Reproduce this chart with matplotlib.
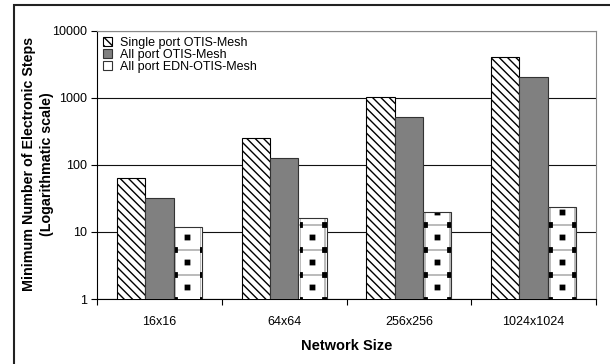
import matplotlib
matplotlib.use('Agg')
import matplotlib.pyplot as plt
import matplotlib.hatch as mhatch
import numpy as np
from matplotlib.path import Path
from matplotlib.patches import Rectangle

plt.rcParams['font.family'] = ['Liberation Sans', 'DejaVu Sans']
plt.rcParams['hatch.linewidth'] = 1.0

sizes = ['16x16', '64x64', '256x256', '1024x1024']
single_port = [64, 256, 1024, 4096]
all_port = [32, 128, 512, 2048]
edn_port = [12, 16, 20, 24]
names = ['Single port OTIS-Mesh', 'All port OTIS-Mesh', 'All port EDN-OTIS-Mesh']


# Excel-like fill patterns: 'o' -> sparse square grid, '*' -> square dots at grid corners and centres
class GridLines(mhatch.HatchPatternBase):
    def __init__(self, hatch, density):
        self.num_lines = 4 * hatch.count('o')
        self.num_vertices = self.num_lines * 4

    def set_vertices_and_codes(self, vertices, codes):
        n = self.num_lines
        steps = np.linspace(0.0, 1.0, n, False)
        vertices[0:2*n:2, 0] = 0.0
        vertices[0:2*n:2, 1] = steps
        vertices[1:2*n:2, 0] = 1.0
        vertices[1:2*n:2, 1] = steps
        vertices[2*n::2, 0] = steps
        vertices[2*n::2, 1] = 0.0
        vertices[2*n+1::2, 0] = steps
        vertices[2*n+1::2, 1] = 1.0
        codes[0::2] = Path.MOVETO
        codes[1::2] = Path.LINETO


class SquareDots(mhatch.HatchPatternBase):
    half = 0.022

    def __init__(self, hatch, density):
        self.n = 4 * hatch.count('*')
        self.num_vertices = 5 * (self.n * self.n * 2)

    def set_vertices_and_codes(self, vertices, codes):
        n = self.n
        g = np.arange(n) / n
        cx, cy = np.meshgrid(g, g)
        centres = np.concatenate([np.c_[cx.ravel(), cy.ravel()],
                                  np.c_[cx.ravel() + 0.5 / n, cy.ravel() + 0.5 / n]])
        h = self.half
        sq = np.array([[-h, -h], [h, -h], [h, h], [-h, h], [-h, -h]])
        vertices[:] = (centres[:, None, :] + sq[None, :, :]).reshape(-1, 2)
        c = np.array([Path.MOVETO, Path.LINETO, Path.LINETO, Path.LINETO, Path.CLOSEPOLY], dtype=Path.code_type)
        codes[:] = np.tile(c, len(centres))


mhatch._hatch_types = [t for t in mhatch._hatch_types
                       if t not in (mhatch.SmallCircles, mhatch.Stars)] + [GridLines, SquareDots]

fig = plt.figure(figsize=(6.1, 3.64), dpi=100)
fig.patches.append(Rectangle((14/610, -0.05), 1.0, (364-5)/364 + 0.05, transform=fig.transFigure,
                             fill=False, edgecolor='#222222', linewidth=1.5))
ax = fig.add_axes([97/610, 1-299/364, 499/610, 268/364])

x = np.arange(len(sizes))
w = 0.227
ax.bar(x - w, single_port, w, color='white', edgecolor='black', hatch='\\\\\\\\', linewidth=0.8,
       label=names[0], zorder=3)
ax.bar(x, all_port, w, color='#808080', edgecolor='#333333', linewidth=0.8, label=names[1], zorder=3)
ax.bar(x + w, edn_port, w, color='white', edgecolor='#a0a0a0', hatch='o', linewidth=0, zorder=3)
ax.bar(x + w, edn_port, w, color='none', edgecolor='black', hatch='*', linewidth=0, zorder=3)
ax.bar(x + w, edn_port, w, color='none', edgecolor='#333333', linewidth=0.8, label=names[2], zorder=4)

ax.set_yscale('log')
ax.set_ylim(1, 10000)
ax.set_xlim(-0.5, 3.5)
ax.set_yticks([1, 10, 100, 1000, 10000])
ax.set_yticklabels(['1', '10', '100', '1000', '10000'])
ax.minorticks_off()
ax.yaxis.grid(True, color='#111111', linewidth=0.8, zorder=0)
ax.set_axisbelow(True)

ax.set_xticks(np.arange(-0.5, 4, 1))
ax.set_xticklabels([])
ax.set_xticks(x, minor=True)
ax.set_xticklabels(sizes, minor=True)
ax.tick_params(axis='x', which='minor', length=0, pad=12, labelsize=9)
ax.tick_params(axis='x', which='major', direction='out', length=4)
ax.tick_params(axis='y', direction='out', length=4, labelsize=9)

for s in ['top', 'right']:
    ax.spines[s].set_color('#888888')
ax.spines['left'].set_color('black')
ax.spines['bottom'].set_color('black')

ax.set_xlabel('Network Size', fontweight='bold', fontsize=10.5, labelpad=8)
ax.set_ylabel('Minimum Number of Electronic Steps\n(Logarithmatic scale)', fontweight='bold', fontsize=10.3,
              linespacing=1.4)
ax.yaxis.set_label_coords(-0.086, 0.505)

ax.legend(loc='upper left', fontsize=9, frameon=False, handlelength=0.7, handleheight=0.7,
          handletextpad=0.6, labelspacing=0.0, borderaxespad=0.3, borderpad=0.2)

fig.savefig('out.png', dpi=100)
